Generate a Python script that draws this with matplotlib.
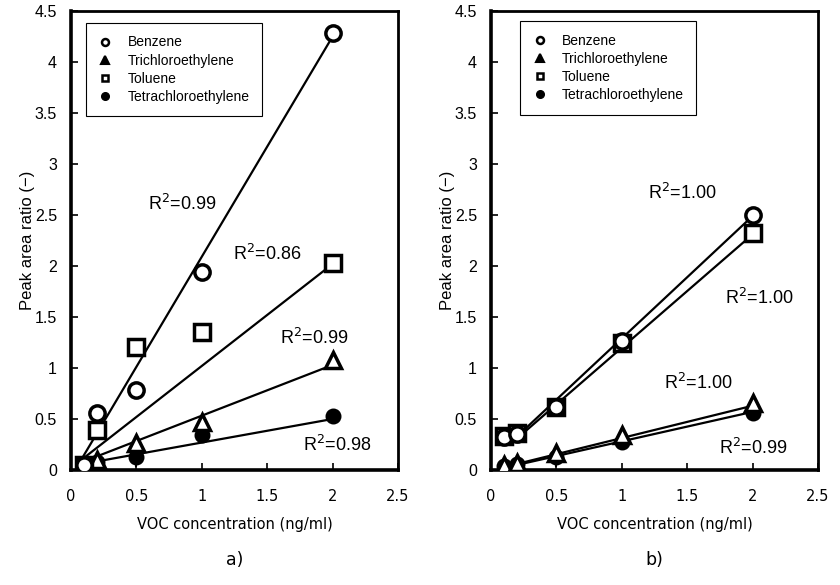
import matplotlib
matplotlib.use("Agg")
import matplotlib.pyplot as plt
from matplotlib.lines import Line2D

# ---------------- data ----------------
conc = [0.1, 0.2, 0.5, 1.0, 2.0]
species = ["Benzene", "Trichloroethylene", "Toluene", "Tetrachloroethylene"]

# panel a
a_benzene = [0.05, 0.56, 0.78, 1.94, 4.28]
a_tce = [0.03, 0.10, 0.26, 0.47, 1.08]
a_toluene = [0.05, 0.39, 1.21, 1.35, 2.03]
a_pce = [0.02, 0.08, 0.13, 0.34, 0.53]
a_pce_err = [0.0, 0.0, 0.10, 0.0, 0.0]
# fitted lines (x start, x end) and (y start, y end)
a_fit_x = [0.05, 2.0]
a_fit_benzene = [0.04, 4.25]
a_fit_tce = [0.06, 1.03]
a_fit_toluene = [0.07, 2.02]
a_fit_pce = [0.05, 0.50]
a_r2 = ["0.99", "0.99", "0.86", "0.98"]

# panel b
b_benzene = [0.32, 0.35, 0.62, 1.26, 2.50]
b_tce = [0.05, 0.07, 0.17, 0.34, 0.66]
b_toluene = [0.33, 0.36, 0.62, 1.25, 2.32]
b_pce = [0.04, 0.06, 0.13, 0.27, 0.56]
b_pce_err = [0.0, 0.0, 0.10, 0.0, 0.0]
b_fit_x = [0.2, 2.0]
b_fit_benzene = [0.33, 2.49]
b_fit_tce = [0.06, 0.63]
b_fit_toluene = [0.31, 2.31]
b_fit_pce = [0.05, 0.57]
b_r2 = ["1.00", "1.00", "1.00", "0.99"]

xticks = [0, 0.5, 1, 1.5, 2, 2.5]
xticklabels = ["0", "0.5", "1", "1.5", "2", "2.5"]
yticks = [0, 0.5, 1, 1.5, 2, 2.5, 3, 3.5, 4, 4.5]
yticklabels = ["0", "0.5", "1", "1.5", "2", "2.5", "3", "3.5", "4", "4.5"]

# R2 label positions (data coords, left-center anchor) : benzene, tce, toluene, pce
a_r2_pos = [(0.59, 2.61), (1.60, 1.29), (1.24, 2.12), (1.77, 0.245)]
b_r2_pos = [(1.20, 2.72), (1.32, 0.85), (1.79, 1.69), (1.74, 0.22)]

W, H = 840, 585
fig = plt.figure(figsize=(W / 100, H / 100), dpi=100)

arial = ["Liberation Sans", "DejaVu Sans"]
narrow = ["DejaVu Sans"]


def make_panel(left_px, series, errs, fit_x, fits, r2, r2pos, letter, leg_anchor):
    ax = fig.add_axes([left_px / W, (H - 470) / H, 327 / W, 459 / H])
    ax.set_xlim(0, 2.5)
    ax.set_ylim(0, 4.5)
    benz, tce, tol, pce = series
    for f in fits:
        ax.plot(fit_x, f, color="black", lw=1.6, zorder=2)
    ax.errorbar(conc, pce, yerr=errs, fmt="none", ecolor="black", elinewidth=1.5,
                capsize=0, zorder=2)
    ax.plot(conc, pce, ls="none", marker="o", ms=10, mfc="black", mec="black",
            mew=1.5, zorder=3)
    ax.plot(conc, tce, ls="none", marker="^", ms=11, mfc="white", mec="black",
            mew=2.5, zorder=4)
    ax.plot(conc, tol, ls="none", marker="s", ms=11, mfc="white", mec="black",
            mew=2.5, zorder=5)
    ax.plot(conc, benz, ls="none", marker="o", ms=11, mfc="white", mec="black",
            mew=2.5, zorder=6)

    for txt, (x, y) in zip(r2, r2pos):
        ax.text(x, y, r"R$^2$=" + txt, ha="left", va="center", fontsize=13,
                family=arial)

    ax.set_xticks(xticks)
    ax.set_xticklabels(xticklabels, family=narrow, fontsize=10.5)
    ax.set_yticks(yticks)
    ax.set_yticklabels(yticklabels, family=arial, fontsize=11.5)
    ax.tick_params(axis="x", direction="in", length=5, width=1.2, pad=14,
                   top=False)
    ax.tick_params(axis="y", direction="in", length=5, width=1.2, pad=10,
                   right=False)
    for s in ["left", "bottom"]:
        ax.spines[s].set_linewidth(2.6)
    for s in ["top", "right"]:
        ax.spines[s].set_linewidth(2.0)
    ax.set_xlabel("VOC concentration (ng/ml)", family=narrow, fontsize=10.5,
                  labelpad=9)
    ax.set_ylabel("Peak area ratio (\u2212)", family=arial, fontsize=12,
                  labelpad=0)

    handles = [
        Line2D([], [], ls="none", marker="o", ms=5, mfc="white", mec="black", mew=1.8),
        Line2D([], [], ls="none", marker="^", ms=5.5, mfc="black", mec="black", mew=1.5),
        Line2D([], [], ls="none", marker="s", ms=5, mfc="white", mec="black", mew=1.8),
        Line2D([], [], ls="none", marker="o", ms=5.5, mfc="black", mec="black", mew=1),
    ]
    leg = ax.legend(handles, species, loc="upper left", fancybox=False,
                    framealpha=1, edgecolor="black",
                    prop={"family": arial, "size": 10},
                    handlelength=1.0, handletextpad=1.1, labelspacing=0.3,
                    borderpad=0.9, borderaxespad=0, bbox_to_anchor=leg_anchor)
    leg.get_frame().set_linewidth(0.8)
    cx = left_px + 327 / 2
    fig.text(cx / W, 1 - 560 / H, letter, ha="center", va="center",
             fontsize=12.5, family=narrow)
    return ax


make_panel(71, [a_benzene, a_tce, a_toluene, a_pce], a_pce_err, a_fit_x,
           [a_fit_benzene, a_fit_tce, a_fit_toluene, a_fit_pce], a_r2, a_r2_pos,
           "a)", (0.046, 0.974))
make_panel(491, [b_benzene, b_tce, b_toluene, b_pce], b_pce_err, b_fit_x,
           [b_fit_benzene, b_fit_tce, b_fit_toluene, b_fit_pce], b_r2, b_r2_pos,
           "b)", (0.089, 0.978))

fig.savefig("out.png", dpi=100)
